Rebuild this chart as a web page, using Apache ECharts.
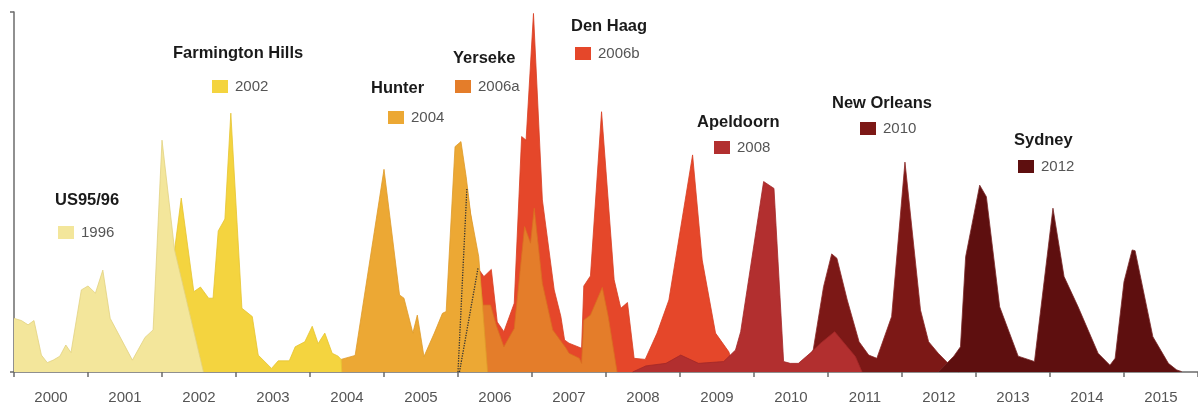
<!DOCTYPE html>
<html><head><meta charset="utf-8">
<script src="https://cdn.jsdelivr.net/npm/echarts@6/dist/echarts.min.js"></script>
<style>html,body{margin:0;padding:0;background:#fff}#c{width:1198px;height:405px}</style>
</head><body><div id="c"></div>
<script>
// ---- data ----
const years = ['2000','2001','2002','2003','2004','2005','2006','2007','2008','2009','2010','2011','2012','2013','2014','2015'];
const variantNames = ['US95/96','Farmington Hills','Hunter','Yerseke','Den Haag','Apeldoorn','New Orleans','Sydney'];
const variantYears = ['1996','2002','2004','2006a','2006b','2008','2010','2012'];

const us9596 = [[2000.00,14.9],[2000.10,14.3],[2000.19,13.1],[2000.27,14.3],[2000.37,4.7],[2000.45,2.6],[2000.53,3.3],[2000.62,4.4],[2000.70,7.5],[2000.77,5.4],[2000.91,22.8],[2001.00,23.9],[2001.10,21.9],[2001.20,28.3],[2001.30,14.9],[2001.60,3.3],[2001.77,9.6],[2001.88,11.7],[2002.00,64.4],[2002.17,33.9],[2002.56,0]];
const farmington = [[2002.04,0],[2002.17,33.9],[2002.26,48.3],[2002.43,22.3],[2002.52,23.6],[2002.63,20.5],[2002.69,20.5],[2002.76,39.2],[2002.85,42.5],[2002.93,71.9],[2003.08,17.7],[2003.22,15.4],[2003.30,4.7],[2003.48,1.0],[2003.57,3.1],[2003.72,3.1],[2003.80,7.0],[2003.93,8.4],[2004.03,12.7],[2004.11,7.9],[2004.20,10.8],[2004.30,5.2],[2004.38,4.4],[2004.42,3.5],[2004.43,0]];
const hunter = [[2004.42,3.5],[2004.61,4.6],[2005.00,56.3],[2005.21,21.4],[2005.27,20.5],[2005.39,10.8],[2005.45,15.8],[2005.54,4.3],[2005.68,10.8],[2005.79,16.3],[2005.84,16.8],[2005.96,62.6],[2006.04,64.0],[2006.11,54.3],[2006.17,44.1],[2006.28,32.0],[2006.40,0]];
const yerseke = [[2006.00,0],[2006.12,51.0],[2006.34,18.6],[2006.44,18.6],[2006.52,12.8],[2006.62,7.0],[2006.76,12.1],[2006.90,40.4],[2006.98,35.8],[2007.03,45.5],[2007.14,24.6],[2007.28,11.7],[2007.46,6.6],[2007.50,5.2],[2007.64,3.8],[2007.67,2.4],[2007.70,14.4],[2007.79,15.8],[2007.95,23.5],[2008.03,15.4],[2008.15,0]];
const denHaag = [[2006.02,0],[2006.27,28.8],[2006.35,26.5],[2006.45,28.5],[2006.53,13.9],[2006.62,11.2],[2006.76,19.1],[2006.86,65.4],[2006.92,64.4],[2007.02,99.6],[2007.14,47.8],[2007.30,22.8],[2007.39,15.4],[2007.44,8.9],[2007.50,8.0],[2007.67,6.6],[2007.70,23.9],[2007.79,26.7],[2007.94,72.3],[2008.11,25.6],[2008.20,17.7],[2008.29,19.3],[2008.38,3.8],[2008.53,3.5],[2008.69,10.8],[2008.85,20.0],[2009.17,60.3],[2009.30,31.1],[2009.48,10.8],[2009.66,5.6],[2009.75,0]];
const apeldoorn = [[2008.36,0],[2008.54,1.7],[2008.81,2.4],[2009.01,4.7],[2009.25,2.4],[2009.59,2.9],[2009.75,6.1],[2009.82,11.2],[2010.13,52.9],[2010.27,51.0],[2010.40,2.9],[2010.49,2.4],[2010.60,2.4],[2010.78,5.6],[2010.90,8.0],[2011.09,11.2],[2011.26,7.0],[2011.37,4.3],[2011.46,0]];
const newOrleans = [[2010.60,0],[2010.80,6.1],[2010.94,23.7],[2011.05,32.8],[2011.12,31.6],[2011.26,20.0],[2011.42,8.4],[2011.55,4.7],[2011.66,3.8],[2011.86,15.4],[2012.04,58.3],[2012.25,17.2],[2012.36,8.4],[2012.49,5.2],[2012.60,2.9],[2012.69,1.1],[2012.76,0]];
const sydney = [[2012.49,0],[2012.70,4.4],[2012.79,7.0],[2012.86,32.0],[2013.05,51.9],[2013.14,48.7],[2013.32,18.1],[2013.57,4.4],[2013.79,2.9],[2014.04,45.5],[2014.19,26.5],[2014.38,18.1],[2014.65,5.2],[2014.81,1.9],[2014.88,3.8],[2015.00,25.1],[2015.11,33.9],[2015.15,33.7],[2015.39,9.8],[2015.60,2.4],[2015.71,0.6],[2015.78,0.1]];

// ---- styling / layout (not data) ----
const seriesData = [us9596, farmington, hunter, yerseke, denHaag, apeldoorn, newOrleans, sydney];
const fills = ['#f3e69b','#f4d43f','#eca834','#e47d2a','#e5472a','#b22f2f','#7c1816','#5e0f0f'];
const strokes = ['#e2d280','#e6c430','#de9a2a','#d96f22','#d83d22','#a32828','#8c2a28','#7a2a2a'];
// draw order (first drawn = bottom)
const zOrder = [8, 7, 6, 5, 3, 4, 1, 2];
const titlePos = [[55,192],[173,45],[371,80],[453,50],[571,18],[697,114],[832,95],[1014,132]];
const legendPos = [[58,225],[212,79],[388,110],[455,79],[575,46],[714,140],[860,121],[1018,159]];
const FONT = 'Liberation Sans, Arial, sans-serif';

const chart = echarts.init(document.getElementById('c'), null, {renderer: 'canvas'});

const series = seriesData.map((d, i) => ({
  name: variantYears[i],
  type: 'line',
  xAxisIndex: 1,
  data: d,
  symbol: 'none',
  z: zOrder[i] + 1,
  color: fills[i],
  itemStyle: {color: fills[i]},
  lineStyle: {width: 0.8, color: strokes[i]},
  areaStyle: {color: fills[i], opacity: 1},
  emphasis: {disabled: true},
  silent: true
}));
// hidden outlines of Yerseke and Den Haag behind Hunter (dotted)
[yerseke.slice(0, 2), denHaag.slice(0, 2)].forEach((d) => {
  series.push({
    type: 'line', xAxisIndex: 1, data: d, symbol: 'none', z: 20, silent: true,
    lineStyle: {type: 'dotted', color: '#333', width: 1.3}
  });
});

const option = {
  animation: false,
  backgroundColor: '#fff',
  grid: {left: 14, top: 12, width: 1186, height: 360},
  title: variantNames.map((n, i) => ({
    text: n, left: titlePos[i][0], top: titlePos[i][1], padding: 0,
    textStyle: {fontSize: 16.5, fontWeight: 'bold', color: '#1a1a1a', fontFamily: FONT}
  })),
  legend: variantYears.map((y, i) => ({
    data: [{name: y, itemStyle: {color: fills[i], borderWidth: 0}}],
    left: legendPos[i][0], top: legendPos[i][1], padding: 0,
    icon: 'rect', itemWidth: 16, itemHeight: 13, itemGap: 0, selectedMode: false,
    textStyle: {fontSize: 15, color: '#555', fontFamily: FONT, padding: [0, 0, 0, 2]}
  })),
  xAxis: [{
    type: 'category', data: years, boundaryGap: true,
    axisLine: {lineStyle: {color: '#6b6b6b', width: 1.5}},
    axisTick: {show: true, alignWithLabel: false, length: 5, lineStyle: {color: '#6b6b6b', width: 1.5}},
    axisLabel: {color: '#555', fontSize: 15, fontFamily: FONT, margin: 18},
    splitLine: {show: false}
  }, {
    type: 'value', min: 2000, max: 2016, show: false
  }],
  yAxis: {
    type: 'value', min: 0, max: 100, interval: 100,
    axisLine: {show: true, lineStyle: {color: '#6b6b6b', width: 1.5}},
    axisTick: {show: true, length: 4, lineStyle: {color: '#6b6b6b', width: 1.5}},
    axisLabel: {show: false},
    splitLine: {show: false}
  },
  series: series
};
chart.setOption(option);
</script>
</body></html>
